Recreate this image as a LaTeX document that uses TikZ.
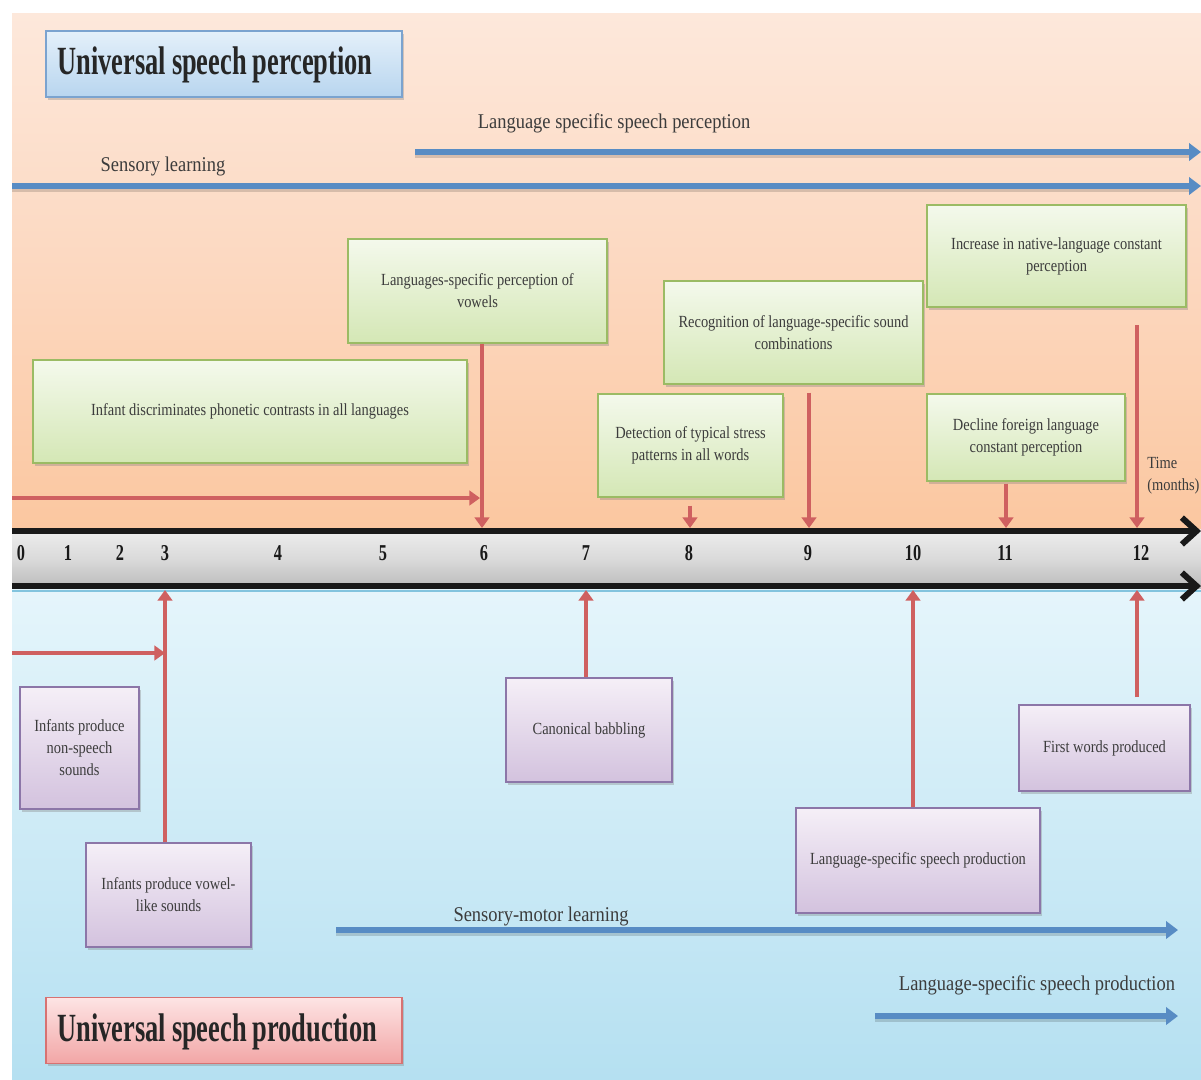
\documentclass[tikz,border=0pt]{standalone}
\usepackage{fontspec}
\setmainfont{Liberation Serif}
\newfontfamily\boxfont[FakeStretch=0.85]{Liberation Serif}
\newfontfamily\headfont[FakeStretch=0.66,WordSpace=0.9]{Liberation Serif}
\newfontfamily\numfont[FakeStretch=0.72]{Liberation Serif}
\newfontfamily\labfont[FakeStretch=0.88]{Liberation Serif}
\usetikzlibrary{arrows.meta,shadows}
\definecolor{peachtop}{RGB}{253,232,219}
\definecolor{peachmid}{RGB}{252,216,192}
\definecolor{peachbot}{RGB}{251,199,160}
\definecolor{bluetop}{RGB}{229,245,251}
\definecolor{bluebot}{RGB}{181,224,241}
\definecolor{greytop}{RGB}{238,238,238}
\definecolor{greymid}{RGB}{218,218,218}
\definecolor{greybot}{RGB}{186,186,186}
\definecolor{gtop}{RGB}{244,249,236}
\definecolor{gbot}{RGB}{212,231,181}
\definecolor{gline}{RGB}{155,187,100}
\definecolor{ptop}{RGB}{245,239,247}
\definecolor{pbot}{RGB}{211,194,222}
\definecolor{pline}{RGB}{140,118,168}
\definecolor{htop}{RGB}{228,240,250}
\definecolor{hbot}{RGB}{184,213,239}
\definecolor{hline}{RGB}{123,163,207}
\definecolor{rtop}{RGB}{253,228,228}
\definecolor{rbot}{RGB}{242,166,166}
\definecolor{rline}{RGB}{215,114,114}
\definecolor{redarrow}{RGB}{207,96,96}
\definecolor{bluearrow}{RGB}{88,140,196}
\definecolor{txt}{RGB}{60,60,60}
\definecolor{thinblue}{RGB}{130,196,222}
\tikzset{
  shad/.style={drop shadow={shadow xshift=1.2pt,shadow yshift=-2.2pt,opacity=0.35}},
  gbox/.style={draw=gline,line width=1pt,top color=gtop,bottom color=gbot,inner sep=0pt,
    align=center,text=txt,font=\boxfont\fontsize{12.75}{16.5}\selectfont,shad},
  pbox/.style={draw=pline,line width=1pt,top color=ptop,bottom color=pbot,inner sep=0pt,
    align=center,text=txt,font=\boxfont\fontsize{12.75}{16.5}\selectfont,shad},
  headbox/.style={line width=1pt,inner sep=0pt,minimum width=267pt,minimum height=49.5pt,shad},
  headtext/.style={inner sep=0pt,anchor=west,text={black!85},
    font=\headfont\bfseries\fontsize{30}{34}\selectfont},
  redarr/.style={draw=redarrow,line width=2.8pt,-{Triangle[length=8pt,width=11pt]}},
  bluearr/.style={draw=bluearrow,line width=4.4pt,-{Triangle[length=9pt,width=13pt]}},
  bluesh/.style={draw=black,opacity=0.15,line width=4.4pt},
  lab/.style={text=txt,inner sep=0pt,font=\labfont\fontsize{15.75}{18}\selectfont},
  num/.style={text=black!90,inner sep=0pt,font=\numfont\bfseries\fontsize{17}{19}\selectfont},
  axisline/.style={draw=black!90,line width=4.5pt,-{Straight Barb[length=11pt,width=20pt]}}
}
\begin{document}
\begin{tikzpicture}[x=0.75pt,y=-0.75pt]
\useasboundingbox (0,0) rectangle (1201,1079);
\fill[white] (0,0) rectangle (1201,1079);
% backgrounds
\shade[top color=peachtop,bottom color=peachbot,middle color=peachmid] (12,13) rectangle (1201,529);
\shade[top color=greytop,bottom color=greybot,middle color=greymid] (12,529) rectangle (1201,589);
\shade[top color=bluetop,bottom color=bluebot] (12,589) rectangle (1201,1079);
\draw[thinblue,line width=1.6pt] (12,591) -- (1201,591);
% axis
\coordinate (axs) at (12,531);
\coordinate (axe) at (1201,531);
\coordinate (bxs) at (12,586);
\coordinate (bxe) at (1201,586);
\draw[axisline] (axs) -- (axe);
\draw[axisline] (bxs) -- (bxe);
% numbers
\foreach \n/\x in {0/21,1/68,2/120,3/165,4/278,5/383,6/484,7/586,8/689,9/808,10/913,11/1005,12/1141}
  \node[num] (n\n) at (\x,553) {\n};
% headings
\node[headbox,draw=hline,top color=htop,bottom color=hbot] (h1) at (224,64) {};
\node[headtext] (h1t) at ([xshift=9pt,yshift=-1pt]h1.west) {Universal speech perception};
\node[headbox,draw=rline,top color=rtop,bottom color=rbot] (h2) at (224,1030.5) {};
\node[headtext] (h2t) at ([xshift=9pt,yshift=-1pt]h2.west) {Universal speech production};
% blue learning arrows
\coordinate (la1) at (415,152); \coordinate (la2) at (1201,152);
\coordinate (sl1) at (12,186); \coordinate (sl2) at (1201,186);
\coordinate (sm1) at (336,930); \coordinate (sm2) at (1178,930);
\coordinate (lp1) at (875,1016); \coordinate (lp2) at (1178,1016);
\draw[bluesh] ([yshift=-2]la1) -- ([yshift=-2,xshift=-8]la2);
\draw[bluesh] ([yshift=-2]sl1) -- ([yshift=-2,xshift=-8]sl2);
\draw[bluesh] ([yshift=-2]sm1) -- ([yshift=-2,xshift=-8]sm2);
\draw[bluesh] ([yshift=-2]lp1) -- ([yshift=-2,xshift=-8]lp2);
\draw[bluearr] (la1) -- (la2);
\draw[bluearr] (sl1) -- (sl2);
\draw[bluearr] (sm1) -- (sm2);
\draw[bluearr] (lp1) -- (lp2);
\node[lab] (tla) at (614,123) {Language specific speech perception};
\node[lab] (tsl) at (163,166) {Sensory learning};
\node[lab] (tsm) at (541,916) {Sensory-motor learning};
\node[lab] (tlp) at (1037,985) {Language-specific speech production};
% green boxes
\node[gbox,minimum width=325.5pt,minimum height=77.25pt] (g1) at (250,411.5) {Infant discriminates phonetic contrasts in all languages};
\node[gbox,minimum width=194.25pt,minimum height=78pt] (g2) at (477.5,291) {Languages-specific perception of\\vowels};
\node[gbox,minimum width=194.25pt,minimum height=77.25pt] (g3) at (793.5,332.5) {Recognition of language-specific sound\\combinations};
\node[gbox,minimum width=138.75pt,minimum height=77.25pt] (g4) at (690.5,445.5) {Detection of typical stress\\patterns in all words};
\node[gbox,minimum width=194.25pt,minimum height=76.5pt] (g5) at (1056.5,256) {Increase in native-language constant\\perception};
\node[gbox,minimum width=148.5pt,minimum height=65.25pt] (g6) at (1026,437.5) {Decline foreign language\\constant perception};
% purple boxes
\node[pbox,minimum width=89.25pt,minimum height=91.5pt] (p1) at (79.5,748) {Infants produce\\non-speech\\sounds};
\node[pbox,minimum width=123.75pt,minimum height=78pt] (p2) at (168.5,895) {Infants produce vowel-\\like sounds};
\node[pbox,minimum width=124.5pt,minimum height=78pt] (p3) at (589,730) {Canonical babbling};
\node[pbox,minimum width=183pt,minimum height=78.75pt] (p4) at (918,860.5) {Language-specific speech production};
\node[pbox,minimum width=128.25pt,minimum height=64.5pt] (p5) at (1104.5,748) {First words produced};
% time label
\node[text=txt,inner sep=0pt,anchor=west,align=left,font=\boxfont\fontsize{12.75}{16.5}\selectfont] (time) at (1147,476) {Time\\(months)};
% tick coordinates
\coordinate (k6) at (482,528);
\coordinate (k8) at (690,528);
\coordinate (k9) at (809,528);
\coordinate (k11) at (1006,528);
\coordinate (k12) at (1137,528);
\coordinate (u3) at (165,590);
\coordinate (u7) at (586,590);
\coordinate (u10) at (913,590);
\coordinate (u12) at (1137,590);
\coordinate (s12) at (1137,325);
\coordinate (f12) at (1137,697);
\coordinate (hs) at (12,498);
\coordinate (he) at (480,498);
\coordinate (hs2) at (12,653);
\coordinate (he2) at (165,653);
% red connectors top
\draw[redarr] (hs) -- (he);
\draw[redarr] (g2.south -| k6) -- (k6);
\draw[redarr,shorten <=6pt] (g4.south -| k8) -- (k8);
\draw[redarr,shorten <=6pt] (g3.south -| k9) -- (k9);
\draw[redarr,shorten <=1.5pt] (g6.south -| k11) -- (k11);
\draw[redarr] (s12) -- (k12);
% red connectors bottom
\draw[redarr] (hs2) -- (he2);
\draw[redarr] (p2.north -| u3) -- (u3);
\draw[redarr] (p3.north -| u7) -- (u7);
\draw[redarr] (p4.north -| u10) -- (u10);
\draw[redarr] (f12) -- (u12);
\end{tikzpicture}
\end{document}
